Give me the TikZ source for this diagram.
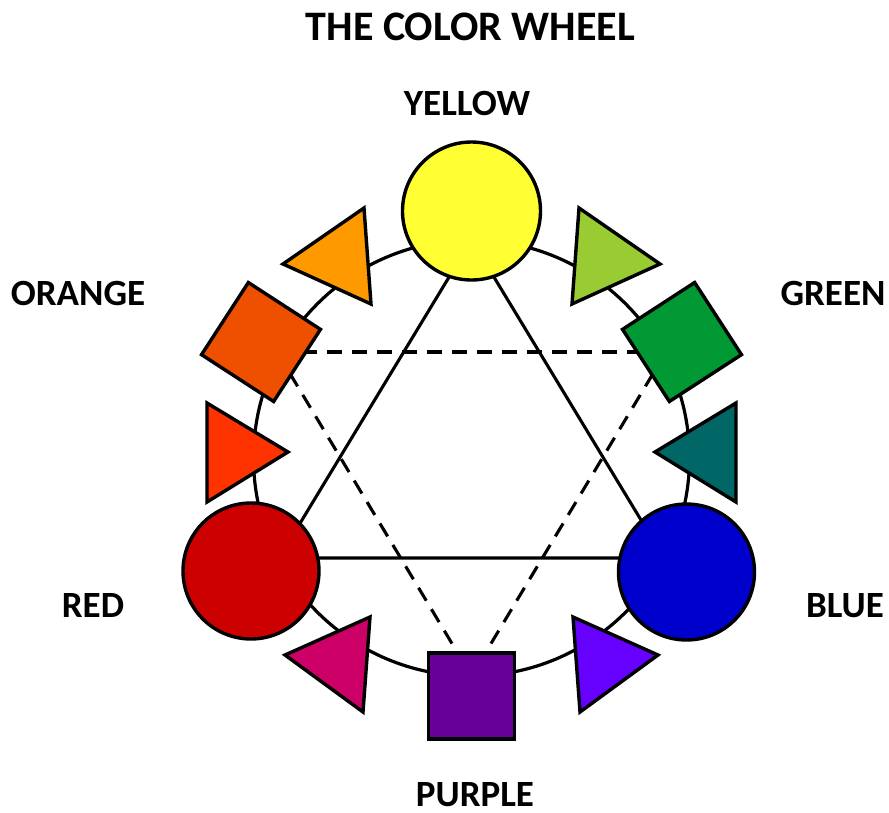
\documentclass[tikz,border=0pt]{standalone}
\usepackage{fontspec}
\setmainfont{Carlito}
\definecolor{cyellow}{HTML}{FFFF33}
\definecolor{corangetri}{HTML}{FF9900}
\definecolor{corangesq}{HTML}{EE5000}
\definecolor{credorange}{HTML}{FF3300}
\definecolor{cred}{HTML}{CC0000}
\definecolor{cmagenta}{HTML}{CC0066}
\definecolor{cpurple}{HTML}{660099}
\definecolor{cviolet}{HTML}{6600FF}
\definecolor{cblue}{HTML}{0000CC}
\definecolor{cteal}{HTML}{006666}
\definecolor{cgreen}{HTML}{009933}
\definecolor{cyg}{HTML}{99CC33}
\begin{document}
\begin{tikzpicture}[x=1pt,y=-1pt,
  outline/.style={draw=black,line width=3.4pt},
  bigdot/.style={outline,circle,inner sep=0pt,minimum size=136pt},
  sqbox/.style={outline,rectangle,inner sep=0pt,minimum size=86pt},
  conn/.style={draw=black,line width=3.1pt},
  dashconn/.style={draw=black,line width=3.1pt,dash pattern=on 15pt off 10pt},
  lbl/.style={font=\bfseries\fontsize{37}{44}\selectfont,anchor=base,inner sep=0pt},
  ttl/.style={font=\bfseries\fontsize{42}{50}\selectfont,anchor=base,inner sep=0pt}]
\useasboundingbox (0,0) rectangle (889,812);
% ring
\coordinate (ringc) at (471.5,458);
\draw[line width=3.2pt] (ringc) circle[radius=218pt];
% solid triangle
\coordinate (sy) at (471.5,240);
\coordinate (sr) at (279,558);
\coordinate (sb) at (664,558);
\draw[conn] (sy) -- (sr) -- (sb) -- cycle;
% dashed triangle
\coordinate (dor) at (277,352);
\coordinate (dgr) at (666,352);
\coordinate (dpu) at (471.5,676);
\draw[dashconn] (dor) -- (dgr);
\draw[dashconn] (dor) -- (dpu);
\draw[dashconn] (dgr) -- (dpu);
% triangles
\filldraw[outline,fill=corangetri] (283,264) -- (364,208) -- (371,304) -- cycle;
\filldraw[outline,fill=cyg] (660,264) -- (579,208) -- (572,304) -- cycle;
\filldraw[outline,fill=credorange] (207,403) -- (288,452) -- (207,502) -- cycle;
\filldraw[outline,fill=cteal] (736,403) -- (655,452) -- (736,502) -- cycle;
\filldraw[outline,fill=cmagenta] (370,617) -- (285,655) -- (363,712) -- cycle;
\filldraw[outline,fill=cviolet] (573,617) -- (658,655) -- (580,712) -- cycle;
% circles and squares
\node[bigdot,fill=cyellow,minimum size=138pt] (yellow) at (471.5,211) {};
\node[bigdot,fill=cred] (red) at (251,571) {};
\node[bigdot,fill=cblue] (blue) at (686.5,572) {};
\node[sqbox,fill=corangesq,rotate=-33] (orangesq) at (261,342) {};
\node[sqbox,fill=cgreen,rotate=33] (greensq) at (682,342) {};
\node[sqbox,fill=cpurple] (purple) at (471.5,696) {};
% labels
\node[ttl] (title) at (470.5,40) {THE COLOR WHEEL};
\node[lbl] (lyellow) at (467,115) {YELLOW};
\node[lbl] (lorange) at (78,305) {ORANGE};
\node[lbl] (lgreen) at (833,305) {GREEN};
\node[lbl] (lred) at (93,617) {RED};
\node[lbl] (lblue) at (845,617) {BLUE};
\node[lbl] (lpurple) at (475,806) {PURPLE};
\end{tikzpicture}
\end{document}
